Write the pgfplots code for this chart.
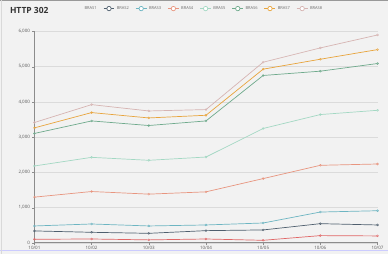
\documentclass[border=0pt]{standalone}
\usepackage{pgfplots}
\pgfplotsset{compat=1.18}
\usepackage{fontspec}
\setmainfont{Open Sans}
\definecolor{bg}{HTML}{F2F2F2}
\definecolor{c1}{HTML}{E06666}
\definecolor{c2}{HTML}{4F5F6E}
\definecolor{c3}{HTML}{6DB5C2}
\definecolor{c4}{HTML}{E8957F}
\definecolor{c5}{HTML}{A3D8C3}
\definecolor{c6}{HTML}{6FAA8C}
\definecolor{c7}{HTML}{E8A43C}
\definecolor{c8}{HTML}{D6B4B2}
\begin{document}
\begin{tikzpicture}[x=1pt,y=1pt]
\fill[bg] (0,0) rectangle (388,254);
\draw[black!40, line width=1pt] (0,254) -- (388,254);
\draw[blue!20, line width=1pt] (0,3) -- (388,3);
\draw[black!15, line width=0.5pt] (0.3,0) -- (0.3,254);
\node[anchor=west, font=\bfseries\fontsize{8.5}{10}\selectfont, text=black!80] at (6,244) {HTTP 302};
\begin{axis}[
  at={(34pt,11pt)}, anchor=origin,
  scale only axis, width=344pt, height=212pt,
  xmin=0, xmax=6, ymin=0, ymax=6000,
  enlargelimits=false,
  axis x line*=bottom, axis y line*=left,
  x axis line style={draw=black!45, line width=0.8pt, -},
  y axis line style={draw=black!45, line width=1.8pt, -},
  xtick={0,...,6},
  xticklabels={10/01,10/02,10/03,10/04,10/05,10/06,10/07},
  ytick={0,1000,...,6000},
  ymajorgrids, grid style={draw=black!14, line width=0.6pt},
  major tick length=2pt,
  xtick style={draw=black!45},
  ytick style={draw=black!45},
  tick align=outside,
  x tick label style={font=\fontsize{4.5}{5}\selectfont, text=black!65, yshift=2.5pt},
  y tick label style={font=\fontsize{4.5}{5}\selectfont, text=black!65, xshift=1pt},
  /pgf/number format/1000 sep={,},
  /pgf/number format/assume math mode=true,
  every axis plot/.append style={line width=0.7pt, mark=o, mark size=1pt, mark options={line width=0.4pt, fill=white}},
  legend style={at={(axis description cs:0.140,1.108)}, anchor=west, draw=none, fill=none,
    font=\fontsize{4}{4.5}\selectfont, text=black!60, inner sep=0pt,
    /tikz/every even column/.append style={column sep=4.5pt}},
  legend columns=8,
  legend cell align=left,
  legend image code/.code={\draw[#1, mark=none] (0pt,0pt) -- (11pt,0pt); \draw[#1, fill=white, mark=none] (5.5pt,0pt) circle (2.2pt);},
]
\addplot[c1, legend image code/.code={}] coordinates {(0,102) (1,110) (2,85) (3,110) (4,73) (5,206) (6,197)};
\addplot[c2] coordinates {(0,339) (1,300) (2,271) (3,347) (4,367) (5,545) (6,508)};
\addplot[c3] coordinates {(0,480) (1,536) (2,480) (3,508) (4,564) (5,875) (6,912)};
\addplot[c4] coordinates {(0,1298) (1,1457) (2,1383) (3,1448) (4,1824) (5,2201) (6,2238)};
\addplot[c5] coordinates {(0,2182) (1,2427) (2,2343) (3,2436) (4,3246) (5,3641) (6,3762)};
\addplot[c6] coordinates {(0,3105) (1,3460) (2,3330) (3,3460) (4,4750) (5,4872) (6,5089)};
\addplot[c7] coordinates {(0,3263) (1,3697) (2,3545) (3,3621) (4,4929) (5,5211) (6,5484)};
\addplot[c8] coordinates {(0,3415) (1,3923) (2,3743) (3,3782) (4,5126) (5,5532) (6,5899)};
\legend{BRAS1,BRAS2,BRAS3,BRAS4,BRAS5,BRAS6,BRAS7,BRAS8}
\end{axis}
\end{tikzpicture}
\end{document}
